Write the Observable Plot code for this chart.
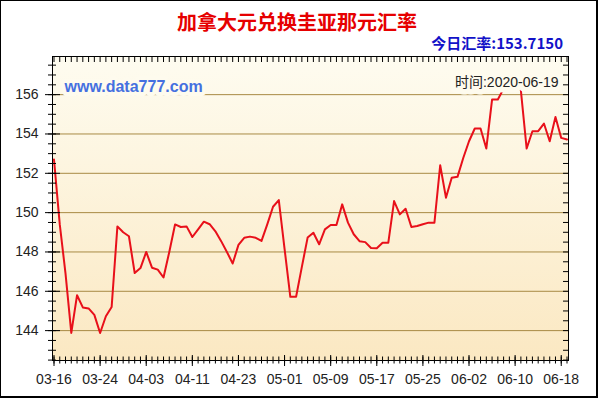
<!DOCTYPE html>
<html>
<head>
<meta charset="utf-8">
<script src="https://cdn.jsdelivr.net/npm/d3@7"></script>
<script src="https://cdn.jsdelivr.net/npm/@observablehq/plot@0.6"></script>
<style>
  body { margin: 0; background: #fff; }
  #wrap { position: relative; width: 600px; height: 400px; overflow: hidden; background: #fff; }
  #chart { position: absolute; left: 0; top: 0; }
  #border { position: absolute; left: 0; top: 0; width: 598px; height: 398px; box-sizing: border-box;
            border: 1px solid #000; border-right-width: 2px; border-bottom-width: 2px; pointer-events: none; }
  #title { position: absolute; left: 0; top: 8px; width: 594px; text-align: center;
           font-family: "Noto Sans CJK SC", sans-serif; font-weight: bold; font-size: 20px; color: #e60000; line-height: 28px; }
  #subtitle { position: absolute; right: 37px; top: 33px; text-align: right;
              font-family: "Noto Sans CJK SC", sans-serif; font-weight: bold; font-size: 15px; color: #1212c8; line-height: 20px; }
</style>
</head>
<body>
<div id="wrap">
  <div id="chart"></div>
  <div id="title"></div>
  <div id="subtitle"></div>
  <div id="border"></div>
</div>
<script>
// ---- data ----
const titleText = "加拿大元兑换圭亚那元汇率";
const todayText = "今日汇率:153.7150";
const siteText = "www.data777.com";
const timeText = "时间:2020-06-19";

const dates = [
  "03-16","03-17","03-18","03-19","03-20","03-21","03-22","03-23","03-24",
  "03-25","03-26","03-27","03-30","03-31","04-01","04-02","04-03",
  "04-04","04-05","04-06","04-07","04-08","04-09","04-10","04-11",
  "04-14","04-15","04-16","04-17","04-20","04-21","04-22","04-23",
  "04-24","04-25","04-26","04-27","04-28","04-29","04-30","05-01",
  "05-02","05-03","05-04","05-05","05-06","05-07","05-08","05-09",
  "05-10","05-11","05-12","05-13","05-14","05-15","05-16","05-17",
  "05-18","05-19","05-20","05-21","05-22","05-23","05-24","05-25",
  "05-26","05-27","05-28","05-29","05-30","05-31","06-01","06-02",
  "06-03","06-04","06-05","06-06","06-07","06-08","06-09","06-10",
  "06-11","06-12","06-13","06-14","06-15","06-16","06-17","06-18","06-19"
];

const rates = [
  152.70, 149.40, 146.90, 143.88, 145.80, 145.18, 145.13, 144.80, 143.88,
  144.73, 145.20, 149.30, 149.00, 148.80, 146.93, 147.18, 148.00,
  147.20, 147.10, 146.70, 148.00, 149.40, 149.27, 149.30, 148.76,
  149.15, 149.54, 149.41, 149.05, 148.55, 148.00, 147.41, 148.36,
  148.72, 148.78, 148.72, 148.56, 149.40, 150.30, 150.64, 148.16,
  145.72, 145.72, 147.24, 148.73, 148.98, 148.39, 149.15, 149.37,
  149.37, 150.42, 149.49, 148.90, 148.55, 148.50, 148.20, 148.19,
  148.47, 148.47, 150.59, 149.91, 150.20, 149.27, 149.32, 149.41,
  149.49, 149.49, 152.41, 150.76, 151.77, 151.82, 152.78, 153.63,
  154.28, 154.28, 153.26, 155.75, 155.75, 156.30, 156.90, 156.70,
  156.20, 153.26, 154.14, 154.14, 154.53, 153.63, 154.86, 153.80, 153.715
];

const yMajorTicks = [144, 146, 148, 150, 152, 154, 156];
const yMinorTicks = [142.5,143,143.5,144,144.5,145,145.5,146,146.5,147,147.5,148,148.5,149,149.5,150,
                     150.5,151,151.5,152,152.5,153,153.5,154,154.5,155,155.5,156,156.5,157,157.5];
const xLabelTicks = ["03-16","03-24","04-03","04-11","04-23","05-01","05-09","05-17","05-25","06-02","06-10","06-18"];
const yDomain = [142.48, 157.94];

// ---- build ----
document.getElementById("title").textContent = titleText;
document.getElementById("subtitle").textContent = todayText;

const table = dates.map((d, i) => ({date: d, value: rates[i]}));
const bgColor = "#fefbee";
const font = "'Liberation Sans', Arial, 'Noto Sans CJK SC', sans-serif";

const chart = Plot.plot({
  width: 600,
  height: 400,
  marginLeft: 52,
  marginRight: 32,
  marginTop: 56,
  marginBottom: 40,
  style: {background: "transparent", fontFamily: font, fontSize: "14px", color: "#222"},
  x: {type: "point", domain: dates, padding: 0, insetLeft: 1.5, insetRight: 1.5, axis: null},
  y: {domain: yDomain, axis: null},
  marks: [
    Plot.frame({fill: "url(#plotBg)", stroke: null}),
    Plot.ruleY(yMajorTicks, {stroke: "#a88a44", strokeWidth: 1}),
    Plot.line(table, {x: "date", y: "value", stroke: "#e8101a", strokeWidth: 2, strokeLinejoin: "round"}),
    Plot.text([siteText], {text: d => d, frameAnchor: "top-left", dx: 12, dy: 30, textAnchor: "start", lineAnchor: "middle",
      fill: "#4570e0", fontWeight: "bold", fontSize: 16, stroke: bgColor, strokeWidth: 8}),
    Plot.text([timeText], {text: d => d, frameAnchor: "top-right", dx: -10, dy: 26, textAnchor: "end", lineAnchor: "middle",
      fill: "#222", fontSize: 14, stroke: bgColor, strokeWidth: 11}),
    // left axis: minor crossing ticks, major ticks with labels
    Plot.axisY({ticks: yMinorTicks, anchor: "left", tickSize: 8, insetLeft: 4, fill: "none", stroke: "#000", label: null}),
    Plot.axisY({ticks: yMajorTicks, anchor: "left", tickSize: 15, insetLeft: 8, tickPadding: 7, fill: "#222", stroke: "#000", label: null, fontSize: 14}),
    // right border ticks (inward)
    Plot.axisY({ticks: yMinorTicks, anchor: "right", tickSize: 6, insetRight: 6, fill: "none", stroke: "#000", label: null}),
    // bottom axis
    Plot.axisX({ticks: dates, anchor: "bottom", tickSize: 7, insetBottom: 3.5, fill: "none", stroke: "#000", label: null}),
    Plot.axisX({ticks: xLabelTicks, anchor: "bottom", tickSize: 11, insetBottom: 5, tickPadding: 8, fill: "#222", stroke: "#000", label: null, fontSize: 14}),
    // top border ticks (inward)
    Plot.axisX({ticks: dates, anchor: "top", tickSize: 5, insetTop: 5, fill: "none", stroke: "#000", label: null}),
    Plot.frame({stroke: "#000", strokeWidth: 1})
  ]
});

const ns = "http://www.w3.org/2000/svg";
const defs = document.createElementNS(ns, "defs");
const grad = document.createElementNS(ns, "linearGradient");
grad.setAttribute("id", "plotBg");
grad.setAttribute("x1", "0"); grad.setAttribute("y1", "0");
grad.setAttribute("x2", "0"); grad.setAttribute("y2", "1");
[["0", "#fefcf0"], ["1", "#fbe8c2"]].forEach(([o, c]) => {
  const s = document.createElementNS(ns, "stop");
  s.setAttribute("offset", o);
  s.setAttribute("stop-color", c);
  grad.appendChild(s);
});
defs.appendChild(grad);
chart.insertBefore(defs, chart.firstChild);

document.getElementById("chart").appendChild(chart);
</script>
</body>
</html>
